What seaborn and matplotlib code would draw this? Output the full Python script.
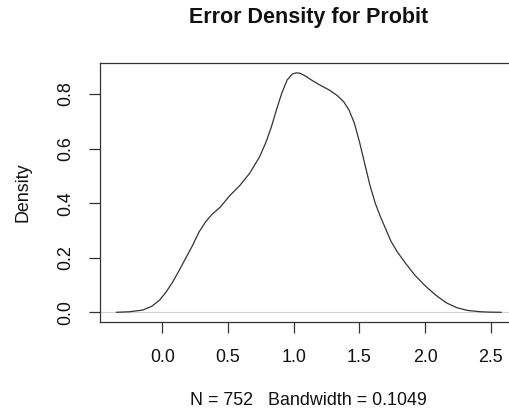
import numpy as np
import pandas as pd
import matplotlib
matplotlib.use("Agg")
import matplotlib.pyplot as plt
import seaborn as sns

# Data
x_vals = [-0.35, -0.25, -0.15, -0.08, -0.02, 0.03, 0.08, 0.13, 0.18, 0.23, 0.28, 0.33,
          0.38, 0.44, 0.51, 0.59, 0.665, 0.74, 0.79, 0.83, 0.87, 0.91, 0.95, 0.99, 1.02,
          1.05, 1.09, 1.14, 1.2, 1.27, 1.33, 1.38, 1.42, 1.46, 1.5, 1.54, 1.58, 1.62,
          1.66, 1.7, 1.74, 1.79, 1.85, 1.92, 2.0, 2.08, 2.16, 2.24, 2.32, 2.42, 2.5, 2.58]
density = [0.0, 0.002, 0.008, 0.022, 0.045, 0.075, 0.112, 0.155, 0.2, 0.245, 0.295,
           0.332, 0.36, 0.385, 0.426, 0.465, 0.51, 0.57, 0.625, 0.68, 0.745, 0.805,
           0.852, 0.874, 0.878, 0.876, 0.866, 0.85, 0.833, 0.815, 0.795, 0.772, 0.742,
           0.695, 0.625, 0.545, 0.465, 0.4, 0.35, 0.305, 0.26, 0.22, 0.18, 0.137, 0.097,
           0.063, 0.035, 0.017, 0.007, 0.002, 0.0005, 0.0]
x_ticks = [0.0, 0.5, 1.0, 1.5, 2.0, 2.5]
y_ticks = [0.0, 0.2, 0.4, 0.6, 0.8]
title = "Error Density for Probit"
x_label = "N = 752   Bandwidth = 0.1049"
y_label = "Density"

df = pd.DataFrame({"x": x_vals, "density": density})

sns.set_style("white")
plt.rcParams["font.family"] = ["Liberation Sans", "DejaVu Sans"]

fig = plt.figure(figsize=(5.10, 4.11), dpi=100)
ax_w = 416.8 / 510
ax = fig.add_axes([100 / 510, (411 - 322) / 411, ax_w, 259 / 411])

ax.axhline(0, color="#d4d4d4", lw=0.8, zorder=1)
sns.lineplot(data=df, x="x", y="density", ax=ax, color="#333333", lw=0.9, zorder=2)

ax.set_xlim(-0.474, 2.697)
ax.set_ylim(-0.0356, 0.914)
ax.set_xticks(x_ticks)
ax.set_xticklabels([f"{v:.1f}" for v in x_ticks])
ax.set_yticks(y_ticks)
ax.set_yticklabels([f"{v:.1f}" for v in y_ticks], rotation=90, va="center")

for s in ax.spines.values():
    s.set_visible(True)
    s.set_color("#333333")
    s.set_linewidth(0.9)

ax.tick_params(axis="both", direction="out", length=7.6, width=0.9, color="#333333",
               labelsize=12.9, labelcolor="#111111")
ax.tick_params(axis="x", pad=12, bottom=True)
ax.tick_params(axis="y", pad=11, left=True)

ax.set_xlabel(x_label, fontsize=12.9, color="#111111", va="center")
ax.xaxis.set_label_coords(0.5, (322 - 400) / 259)
ax.set_ylabel(y_label, fontsize=12.9, color="#111111", va="center")
ax.yaxis.set_label_coords((23 - 100) / 416.8, 0.5)

ax.set_title(title, fontsize=15.5, fontweight="bold", color="#111111",
             y=(322 - 18) / 259, va="center", pad=0)

fig.savefig("out.png", dpi=100)
